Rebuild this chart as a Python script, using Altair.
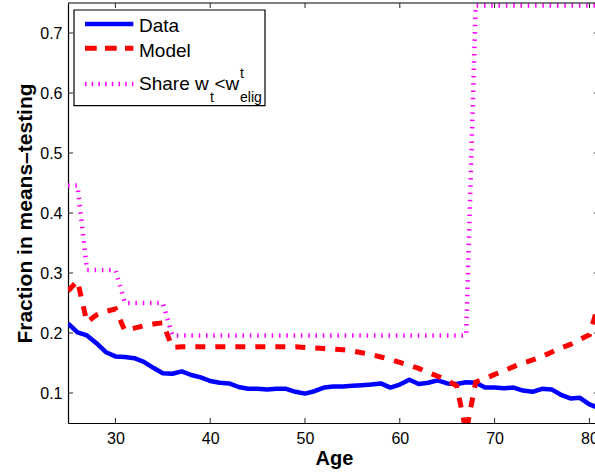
import altair as alt
import pandas as pd

# ---- values -------------------------------------------------------------
ages = list(range(25, 82))

data_frac = [
    0.216, 0.201, 0.196, 0.183, 0.168, 0.161, 0.160, 0.158, 0.152, 0.142,
    0.133, 0.132, 0.136, 0.130, 0.126, 0.120, 0.117, 0.116, 0.110, 0.107,
    0.107, 0.106, 0.107, 0.107, 0.102, 0.099, 0.103, 0.109, 0.111, 0.111,
    0.112, 0.113, 0.114, 0.116, 0.109, 0.114, 0.122, 0.115, 0.117, 0.121,
    0.116, 0.115, 0.118, 0.117, 0.109, 0.109, 0.108, 0.109, 0.104, 0.102,
    0.107, 0.106, 0.097, 0.091, 0.092, 0.081, 0.075,
]

model_frac = [
    0.270, 0.287, 0.218, 0.230, 0.236, 0.240, 0.204, 0.208, 0.212, 0.215,
    0.217, 0.176, 0.177, 0.177, 0.177, 0.177, 0.177, 0.177, 0.177, 0.177,
    0.177, 0.177, 0.177, 0.177, 0.177, 0.176, 0.175, 0.174, 0.173, 0.172,
    0.170, 0.167, 0.164, 0.160, 0.156, 0.151, 0.146, 0.141, 0.134, 0.128,
    0.121, 0.112, 0.035, 0.118, 0.124, 0.131, 0.137, 0.144, 0.150, 0.155,
    0.161, 0.168, 0.175, 0.181, 0.189, 0.197, 0.250,
]

share_frac = (
    [0.446] * 2      # 25-26
    + [0.305] * 4    # 27-30
    + [0.250] * 5    # 31-35
    + [0.196] * 32   # 36-67
    + [0.746] * 14   # 68-81
)

series_names = ["Data", "Model", "Share"]
x_ticks = [30, 40, 50, 60, 70, 80]
y_ticks = [0.1, 0.2, 0.3, 0.4, 0.5, 0.6, 0.7]

# ---- layout ---------------------------------------------------------------
W, H = 527, 420
X_DOMAIN = [25, 80.59]
Y_DOMAIN = [0.05, 0.75]
FONT = "Liberation Sans"
TICK_LEN = 5
FULL_W = 531  # where the right-hand frame sits (beyond the visible edge)

n = len(ages)
df = pd.DataFrame({
    "age": ages * 3,
    "value": data_frac + model_frac + share_frac,
    "series": [series_names[0]] * n + [series_names[1]] * n + [series_names[2]] * n,
})

x_scale = alt.Scale(domain=X_DOMAIN, nice=False, zero=False)
y_scale = alt.Scale(domain=Y_DOMAIN, nice=False, zero=False)

x_axis = alt.Axis(
    values=x_ticks, format="d", grid=False, tickSize=0,
    domainColor="black", domainWidth=1.2,
    labelFont=FONT, labelFontSize=16, labelColor="black", labelPadding=7,
    title="Age", titleFont=FONT, titleFontSize=20, titleFontWeight="bold",
    titleColor="black", titleX=266, titleY=41, titleBaseline="alphabetic",
    titleAlign="center",
)
y_axis = alt.Axis(
    values=y_ticks, format=".1f", grid=False, tickSize=0,
    domainColor="black", domainWidth=1.2,
    labelFont=FONT, labelFontSize=16, labelColor="black", labelPadding=6,
    title="Fraction in means–testing", titleFont=FONT, titleFontSize=21,
    titleFontWeight="bold", titleColor="black", titleAngle=270,
    titleX=-37, titleY=210, titleBaseline="alphabetic", titleAlign="center",
)

X = alt.X("age:Q", scale=x_scale, axis=x_axis)
Y = alt.Y("value:Q", scale=y_scale, axis=y_axis)

base = alt.Chart(df)

data_line = base.transform_filter(alt.datum.series == "Data").mark_line(
    color="#0000ff", strokeWidth=4.5, clip=True, strokeJoin="round"
).encode(x=X, y=Y)

model_line = base.transform_filter(alt.datum.series == "Model").mark_line(
    color="#ff0000", strokeWidth=5, strokeDash=[10, 10], strokeCap="butt", clip=True
).encode(x=X, y=Y)

share_line = base.transform_filter(alt.datum.series == "Share").mark_line(
    color="#ff00ff", strokeWidth=4.5, strokeDash=[1.5, 5.8], strokeCap="butt", clip=True
).encode(x=X, y=Y)

# ---- frame: top border and inward-pointing tick marks -------------------
one = pd.DataFrame({"k": [0]})
xt = pd.DataFrame({"age": x_ticks})
yt = pd.DataFrame({"value": y_ticks})
tick_style = dict(color="#222222", strokeWidth=1)

top_border = alt.Chart(one).mark_rule(color="black", strokeWidth=1.2).encode(
    x=alt.value(0), x2=alt.value(FULL_W), y=alt.value(0)
)
bottom_ticks = alt.Chart(xt).mark_rule(**tick_style).encode(
    x=X, y=alt.value(H), y2=alt.value(H - TICK_LEN),
)
top_ticks = alt.Chart(xt).mark_rule(**tick_style).encode(
    x=X, y=alt.value(0), y2=alt.value(TICK_LEN),
)
left_ticks = alt.Chart(yt).mark_rule(**tick_style).encode(
    y=Y, x=alt.value(0), x2=alt.value(TICK_LEN),
)
right_ticks = alt.Chart(yt).mark_rule(**tick_style).encode(
    y=Y, x=alt.value(FULL_W - TICK_LEN), x2=alt.value(FULL_W),
)

# ---- legend box ----------------------------------------------------------
legend_box = alt.Chart(one).mark_rect(
    fill="white", stroke="black", strokeWidth=1.2
).encode(
    x=alt.value(6), x2=alt.value(197), y=alt.value(7), y2=alt.value(102.7)
)


def key_line(y, **style):
    return alt.Chart(one).mark_rule(**style).encode(
        x=alt.value(17), x2=alt.value(65.3), y=alt.value(y)
    )


def key_text(label, x, y, size):
    return alt.Chart(one).mark_text(
        align="left", baseline="alphabetic", font=FONT, fontSize=size, color="black"
    ).encode(x=alt.value(x), y=alt.value(y), text=alt.value(label))


legend_layers = [
    legend_box,
    key_line(21, color="#0000ff", strokeWidth=4.5),
    key_line(45.3, color="#ff0000", strokeWidth=5, strokeDash=[11.7, 8.3], strokeCap="butt"),
    key_line(81, color="#ff00ff", strokeWidth=4.5, strokeDash=[1.5, 5.2], strokeCap="butt"),
    key_text("Data", 71, 28.7, 19),
    key_text("Model", 71, 54.3, 19),
    key_text("Share w", 71, 87, 19),
    key_text("t", 142, 98.5, 14),
    key_text("<w", 146.5, 87, 19),
    key_text("t", 172, 74.5, 14),
    key_text("elig", 172, 98.5, 14),
]

chart = alt.layer(
    data_line, model_line, share_line,
    top_border, bottom_ticks, top_ticks, left_ticks, right_ticks,
    *legend_layers,
).properties(
    width=W, height=H,
    autosize=alt.AutoSizeParams(type="none"),
    padding={"left": 68, "top": 3, "right": 0, "bottom": 49},
    background="white",
).configure_view(strokeWidth=0)

chart.save("out.html", embed_options={"renderer": "svg", "actions": False})
